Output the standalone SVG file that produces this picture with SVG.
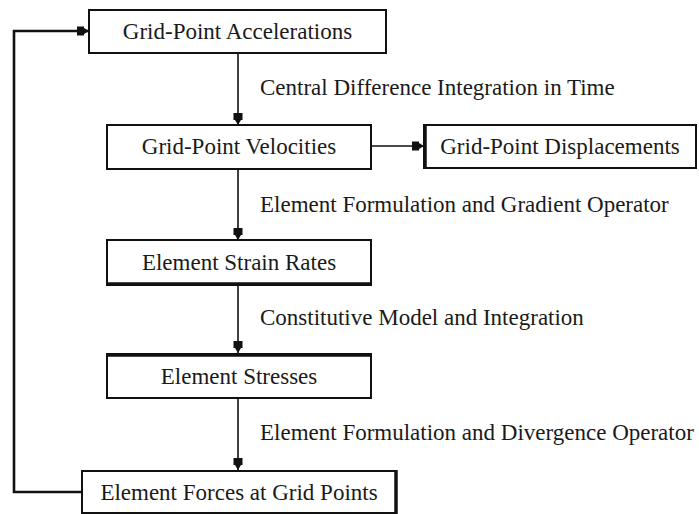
<svg xmlns="http://www.w3.org/2000/svg" width="699" height="514" viewBox="0 0 699 514">
<style>
.box{fill:#fff;stroke:#111;stroke-width:2}
.edge{stroke:#111;stroke-width:3.5}
.t{font-family:"Liberation Serif","Times New Roman",serif;font-size:23px;fill:#1a1a1a}
.c{text-anchor:middle}
.ln{fill:none;stroke:#111;stroke-width:1.6}
.fb{fill:none;stroke:#111;stroke-width:2.6}
</style>
<defs>
<marker id="ah" markerUnits="userSpaceOnUse" markerWidth="14" markerHeight="12" viewBox="0 -6 14 12" refX="12" refY="0" orient="auto">
<path d="M0,-4.5 H7 V-3 L12,0 L7,3 V4.5 H0 Z" fill="#111"/>
</marker>
</defs>
<rect width="699" height="514" fill="#fff"/>
<g id="connectors">
<line class="ln" x1="238" y1="53" x2="238" y2="125" marker-end="url(#ah)"/>
<line class="ln" x1="238" y1="169" x2="238" y2="240" marker-end="url(#ah)"/>
<line class="ln" x1="238" y1="285" x2="238" y2="353" marker-end="url(#ah)"/>
<line class="ln" x1="238" y1="398" x2="238" y2="470" marker-end="url(#ah)"/>
<line class="ln" x1="371" y1="146" x2="424" y2="146" marker-end="url(#ah)"/>
<polyline class="fb" points="82,492 14,492 14,31 89,31" marker-end="url(#ah)"/>
<text class="t" x="260" y="95">Central Difference Integration in Time</text>
<text class="t" x="260" y="212">Element Formulation and Gradient Operator</text>
<text class="t" x="260" y="325">Constitutive Model and Integration</text>
<text class="t" x="260" y="440">Element Formulation and Divergence Operator</text>
</g>
<g id="n-accel">
<rect class="box" x="89" y="10" width="297" height="43"/>
<text class="t c" x="237.5" y="39">Grid-Point Accelerations</text>
</g>
<g id="n-vel">
<rect class="box" x="107" y="125" width="264" height="44"/>
<text class="t c" x="239" y="154">Grid-Point Velocities</text>
</g>
<g id="n-disp">
<rect class="box" x="424" y="125" width="272" height="43"/>
<line class="edge" x1="425" y1="124" x2="425" y2="169"/>
<text class="t c" x="560" y="154">Grid-Point Displacements</text>
</g>
<g id="n-strain">
<rect class="box" x="107" y="240" width="264" height="45"/>
<line class="edge" x1="106" y1="284" x2="372" y2="284"/>
<text class="t c" x="239" y="270">Element Strain Rates</text>
</g>
<g id="n-stress">
<rect class="box" x="107" y="354" width="264" height="44"/>
<line class="edge" x1="106" y1="355" x2="372" y2="355"/>
<text class="t c" x="239" y="384">Element Stresses</text>
</g>
<g id="n-forces">
<rect class="box" x="82" y="471" width="314" height="42"/>
<line class="edge" x1="396" y1="470" x2="396" y2="514"/>
<text class="t c" x="239" y="500">Element Forces at Grid Points</text>
</g>
</svg>
